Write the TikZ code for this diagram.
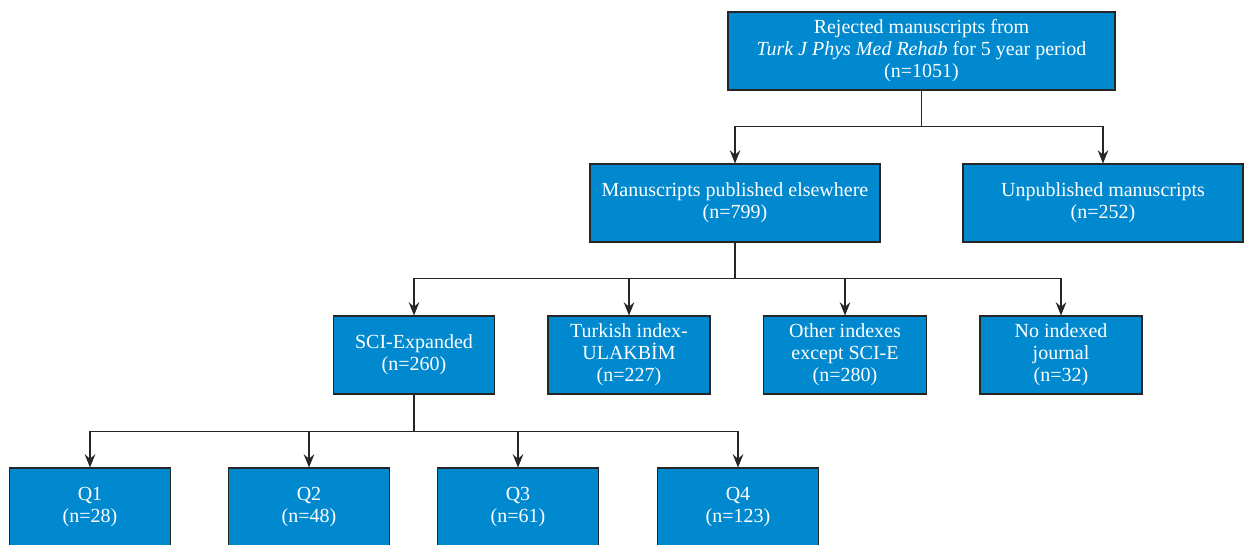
\documentclass[tikz,border=0pt]{standalone}
\usepackage{fontspec}
\setmainfont{Liberation Serif}
\usetikzlibrary{arrows.meta}
\definecolor{boxblue}{RGB}{0,137,207}

\begin{document}
\begin{tikzpicture}[x=0.75pt,y=-0.75pt,
    box/.style={draw=black!85,line width=0.8pt,fill=boxblue,text=white,align=center,
      inner sep=2pt,minimum height=58.5pt,
      font=\fontsize{15}{16.5}\selectfont},
    wbox/.style={box,minimum width=#1*0.75pt},
    link/.style={draw=black!85,line width=0.8pt},
    arr/.style={link,-{Stealth[length=10pt,width=8pt,inset=3.5pt]}}]
  \useasboundingbox (0,0) rectangle (1244,544);

  % top
  \node[wbox=387] (rej) at (921.5,51) {Rejected manuscripts from\\\textit{Turk J Phys Med Rehab} for 5 year period\\(n=1051)};

  % level 2
  \node[wbox=290] (pub) at (735,203) {Manuscripts published elsewhere\\(n=799)};
  \node[wbox=280] (unpub) at (1103,203) {Unpublished manuscripts\\(n=252)};

  % level 3
  \node[wbox=161] (sci) at (414,355) {SCI-Expanded\\(n=260)};
  \node[wbox=162] (tr)  at (629,355) {Turkish index-\\ULAKBİM\\(n=227)};
  \node[wbox=163] (oth) at (845,355) {Other indexes\\except SCI-E\\(n=280)};
  \node[wbox=162] (noj) at (1061,355) {No indexed\\journal\\(n=32)};

  % quartiles
  \node[wbox=161] (q1) at (90,507)  {Q1\\(n=28)};
  \node[wbox=161] (q2) at (309,507) {Q2\\(n=48)};
  \node[wbox=161] (q3) at (518,507) {Q3\\(n=61)};
  \node[wbox=161] (q4) at (738,507) {Q4\\(n=123)};

  % connectors
  \path (rej.south) ++(0,36) coordinate (j1);
  \draw[link] (rej.south) -- (j1);
  \draw[arr] (j1) -| (pub.north);
  \draw[arr] (j1) -| (unpub.north);

  \path (pub.south) ++(0,36) coordinate (j2);
  \draw[link] (pub.south) -- (j2);
  \foreach \n in {sci,tr,oth,noj}
    \draw[arr] (j2) -| (\n.north);

  \path (sci.south) ++(0,37) coordinate (j3);
  \draw[link] (sci.south) -- (j3);
  \foreach \n in {q1,q2,q3,q4}
    \draw[arr] (j3) -| (\n.north);
\end{tikzpicture}
\end{document}
